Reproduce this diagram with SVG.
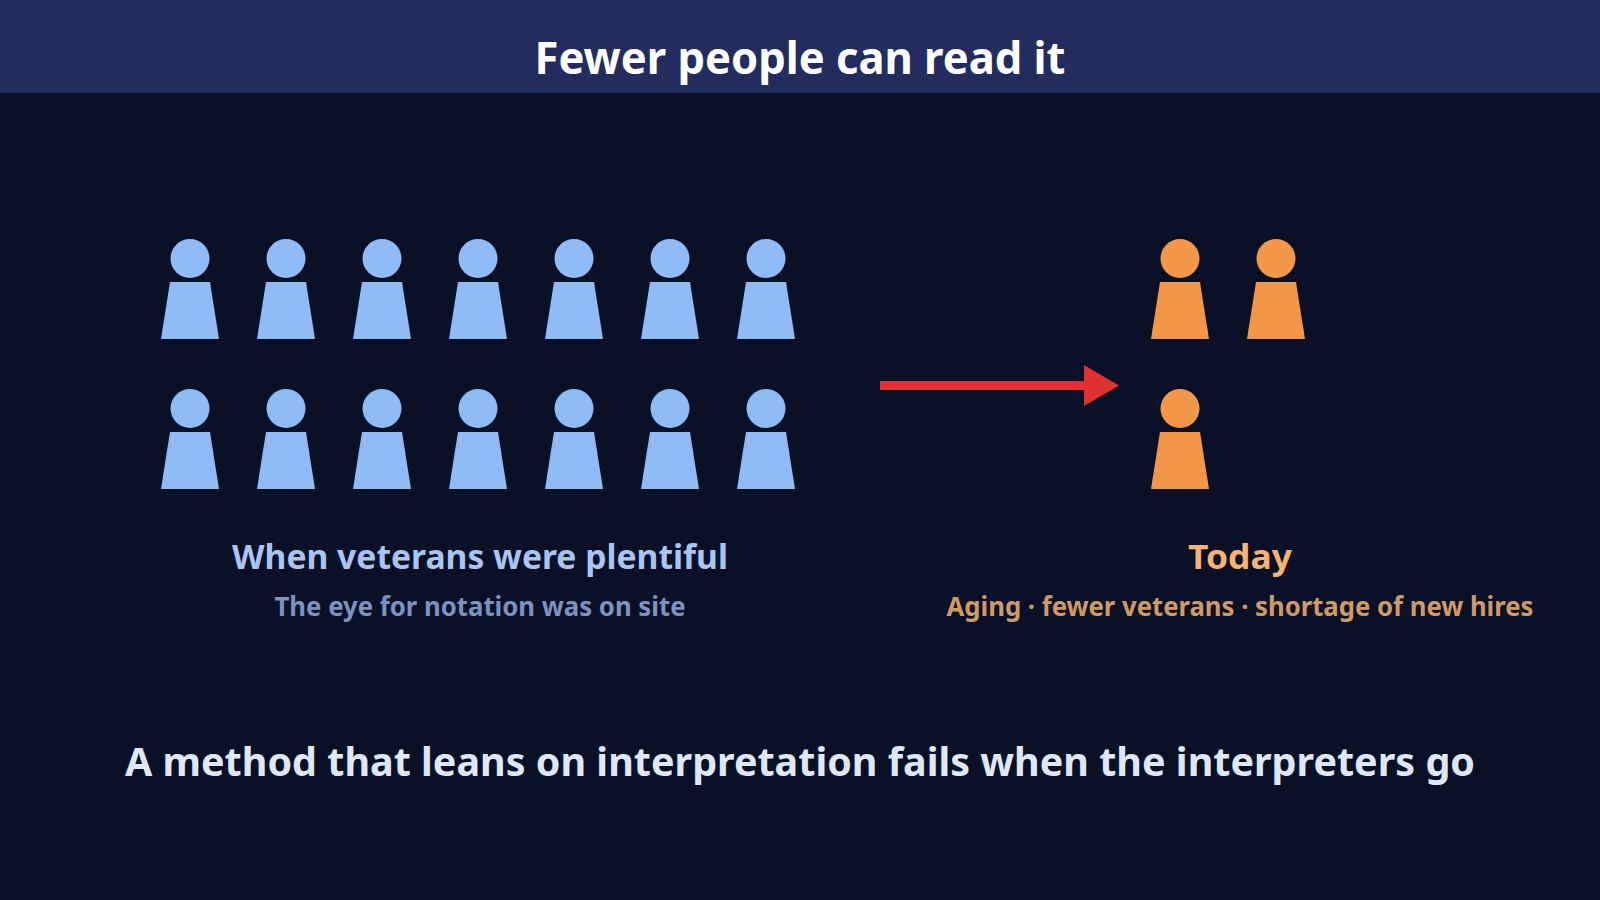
<svg xmlns="http://www.w3.org/2000/svg" xmlns:xlink="http://www.w3.org/1999/xlink" width="1600" height="900" viewBox="0 0 1600 900">
<style>
text{font-family:"Noto Sans","Open Sans",sans-serif;font-weight:700;text-anchor:middle}
.blue{fill:#8fbcf5}.orange{fill:#f29748}
</style>
<defs>
<g id="person"><circle cx="0" cy="0" r="19.5"/><polygon points="-20,23.5 20,23.5 29,80.5 -29,80.5"/></g>
</defs>
<rect width="1600" height="900" fill="#0a1127"/>
<rect width="1600" height="93" fill="#222c5e"/>
<text x="800" y="74" font-size="44" fill="#ffffff" textLength="531" lengthAdjust="spacingAndGlyphs">Fewer people can read it</text>
<g id="veterans" class="blue">
<use xlink:href="#person" x="190" y="258.5"/><use xlink:href="#person" x="286" y="258.5"/><use xlink:href="#person" x="382" y="258.5"/><use xlink:href="#person" x="478" y="258.5"/><use xlink:href="#person" x="574" y="258.5"/><use xlink:href="#person" x="670" y="258.5"/><use xlink:href="#person" x="766" y="258.5"/>
<use xlink:href="#person" x="190" y="408.5"/><use xlink:href="#person" x="286" y="408.5"/><use xlink:href="#person" x="382" y="408.5"/><use xlink:href="#person" x="478" y="408.5"/><use xlink:href="#person" x="574" y="408.5"/><use xlink:href="#person" x="670" y="408.5"/><use xlink:href="#person" x="766" y="408.5"/>
</g>
<g id="today" class="orange">
<use xlink:href="#person" x="1180" y="258.5"/><use xlink:href="#person" x="1276" y="258.5"/><use xlink:href="#person" x="1180" y="408.5"/>
</g>
<g id="connectors"><rect x="880" y="381" width="205" height="9" fill="#e03131"/><polygon points="1084,365 1119,385.5 1084,406" fill="#e03131"/></g>
<text x="480" y="569" font-size="34" fill="#a9c5f3" textLength="496" lengthAdjust="spacingAndGlyphs">When veterans were plentiful</text>
<text x="480" y="616" font-size="26" fill="#7b93c0" textLength="411" lengthAdjust="spacingAndGlyphs">The eye for notation was on site</text>
<text x="1240" y="569" font-size="34" fill="#f7b36f" textLength="104" lengthAdjust="spacingAndGlyphs">Today</text>
<text x="1240" y="616" font-size="26" fill="#cf9a63" textLength="587" lengthAdjust="spacingAndGlyphs">Aging · fewer veterans · shortage of new hires</text>
<text x="800" y="776" font-size="40" fill="#dfe8fb" textLength="1350" lengthAdjust="spacingAndGlyphs">A method that leans on interpretation fails when the interpreters go</text>
</svg>
